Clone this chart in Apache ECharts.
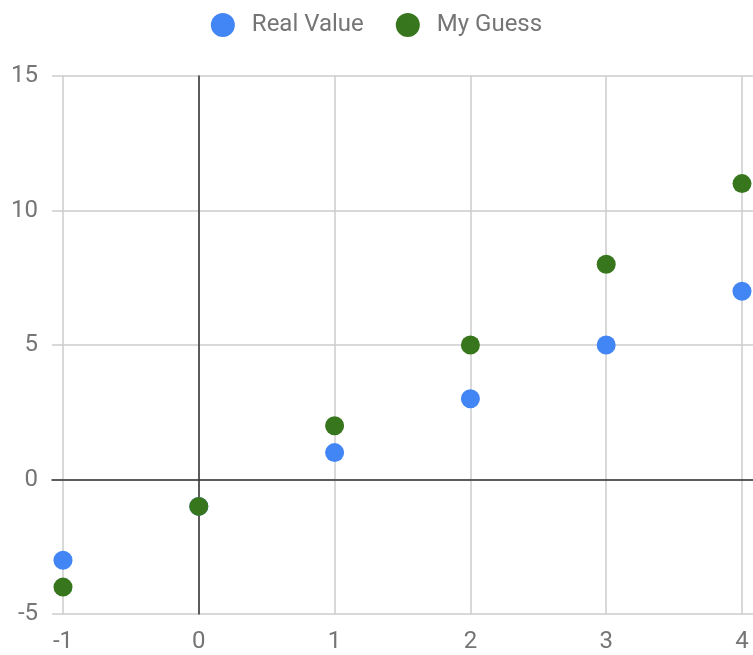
<!DOCTYPE html>
<html>
<head>
<meta charset="UTF-8">
<title>Real Value vs My Guess</title>
<script src="https://cdn.jsdelivr.net/npm/echarts@6/dist/echarts.min.js"></script>
<style>
  html, body { margin: 0; padding: 0; background: #fff; }
  #main { width: 753px; height: 655px; }
</style>
</head>
<body>
<div id="main"></div>
<script>
// data
var xValues = [-1, 0, 1, 2, 3, 4];
var realValue = [-3, -1, 1, 3, 5, 7];
var myGuess = [-4, -1, 2, 5, 8, 11];

function pairs(xs, ys) {
  var out = [];
  for (var i = 0; i < xs.length; i++) out.push([xs[i], ys[i]]);
  return out;
}

var chart = echarts.init(document.getElementById('main'));
var labelColor = '#757575';
var gridColor = '#cccccc';
var zeroColor = '#333333';

chart.setOption({
  animation: false,
  textStyle: { fontFamily: 'Roboto' },
  legend: {
    top: 8,
    left: 'center',
    icon: 'circle',
    itemWidth: 24,
    itemHeight: 24,
    itemGap: 32,
    textStyle: { fontSize: 24, color: labelColor, fontFamily: 'Roboto', padding: [0, 0, 0, 12] },
    data: ['Real Value', 'My Guess']
  },
  // grid 0 carries the horizontal gridlines (wider), grid 1 carries the data
  grid: [
    { left: 52, right: 0, top: 76, bottom: 41 },
    { left: 63, right: 11, top: 76, bottom: 41 }
  ],
  xAxis: [{
    gridIndex: 0,
    type: 'value',
    min: -1.08,
    max: 4.08,
    axisLine: { show: true, onZero: true, lineStyle: { color: zeroColor, width: 1.5 } },
    axisTick: { show: false },
    axisLabel: { show: false },
    splitLine: { show: false }
  }, {
    gridIndex: 1,
    type: 'value',
    min: -1,
    max: 4,
    interval: 1,
    axisLine: { show: false },
    axisTick: { show: false },
    axisLabel: { color: labelColor, fontSize: 24, margin: 16 },
    splitLine: { lineStyle: { color: gridColor, width: 1.5 } }
  }],
  yAxis: [{
    gridIndex: 0,
    type: 'value',
    min: -5,
    max: 15,
    interval: 5,
    axisLine: { show: false },
    axisTick: { show: false },
    axisLabel: { color: labelColor, fontSize: 24, margin: 14 },
    splitLine: { lineStyle: { color: gridColor, width: 1.5 } }
  }, {
    gridIndex: 1,
    type: 'value',
    min: -5,
    max: 15,
    interval: 5,
    axisLine: { show: true, onZero: true, lineStyle: { color: zeroColor, width: 1.5 } },
    axisTick: { show: false },
    axisLabel: { show: false },
    splitLine: { show: false }
  }],
  series: [{
    name: 'Real Value',
    type: 'scatter',
    xAxisIndex: 1,
    yAxisIndex: 1,
    symbolSize: 19,
    itemStyle: { color: '#4285f4', opacity: 1 },
    data: pairs(xValues, realValue)
  }, {
    name: 'My Guess',
    type: 'scatter',
    xAxisIndex: 1,
    yAxisIndex: 1,
    symbolSize: 19,
    itemStyle: { color: '#38761d', opacity: 1 },
    data: pairs(xValues, myGuess)
  }]
});
</script>
</body>
</html>
